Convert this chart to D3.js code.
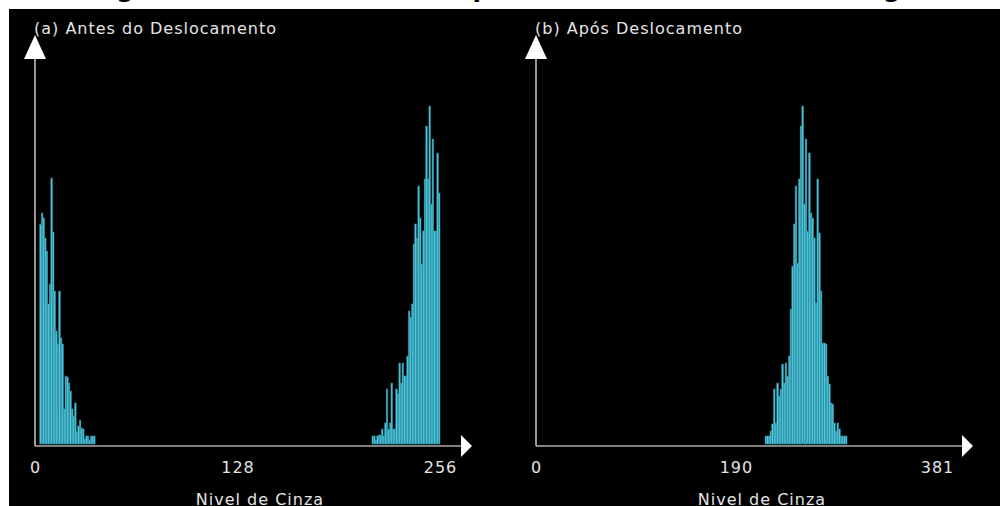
<!DOCTYPE html>
<html>
<head>
<meta charset="utf-8">
<script src="https://cdn.jsdelivr.net/npm/d3@7"></script>
<style>
  body { margin: 0; background: #fff; }
  text { font-family: "DejaVu Sans", sans-serif; }
</style>
</head>
<body>
<div id="chart"></div>
<script>
// gray level histograms, heights in relative count units
const beforeLowStart = 3;
const beforeLow = [220, 231, 226, 206, 193, 140, 160, 266, 212, 153, 113, 100, 153, 106, 100,
    35, 68, 67, 61, 53, 35, 28, 41, 12, 18, 24, 16, 15, 5, 8, 8, 4, 8, 8, 8];
const beforeHighStart = 213;
const beforeHigh = [8, 8, 4, 8, 9, 9, 15, 8, 21, 55, 15, 21, 61, 15, 15, 55, 50, 81, 61, 81, 68, 68,
    88, 133, 127, 140, 200, 220, 206, 258, 226, 180, 213, 265, 318, 265, 338, 240, 305, 213, 213, 291, 251];
const afterStart = 217.6;
const afterBinWidth = 1.59;
const after = [8, 8, 8, 13, 20, 55, 21, 61, 48, 55, 80, 61, 81, 68, 88, 135, 178, 220, 258, 181, 265,
    318, 338, 240, 305, 213, 291, 231, 226, 206, 141, 265, 211, 153, 101, 101, 100, 68, 60, 41, 40,
    21, 13, 21, 15, 8, 8, 8, 8];

const beforeTicks = [0, 128, 256];
const afterTicks = [0, 190, 381];
const panelTitles = ["(a) Antes do Deslocamento", "(b) Após Deslocamento"];
const axisTitle = "Nivel de Cinza";
const mainTitle = "Histograma Bimodal Antes e Após o Deslocamento do Histograma";

const W = 1000, H = 506;
const barFill = "#52c8dc", barStroke = "#2a8ea2", ink = "#e4e4e4";

const svg = d3.select("#chart").append("svg")
    .attr("width", W)
    .attr("height", H);

// title above the frame, only the descender tips reach into view
svg.append("text")
    .attr("x", W / 2 + 8)
    .attr("y", -3)
    .attr("text-anchor", "middle")
    .attr("font-size", 25)
    .attr("font-weight", "bold")
    .attr("fill", "#000")
    .text(mainTitle);

svg.append("rect")
    .attr("x", 9).attr("y", 9)
    .attr("width", W - 9).attr("height", H - 9)
    .attr("fill", "#000");

const y = d3.scaleLinear().domain([0, 350]).range([444, 94]);

function drawPanel(opts) {
    const g = svg.append("g");
    const x = opts.x;
    const x0 = x.range()[0];
    const base = 446;

    // bars
    opts.series.forEach(s => {
        g.selectAll(null)
            .data(s.values)
            .join("rect")
            .attr("x", (d, i) => x(s.start + i * s.step))
            .attr("y", d => y(d))
            .attr("width", x(s.step) - x(0))
            .attr("height", d => y(0) - y(d))
            .attr("fill", barFill)
            .attr("stroke", barStroke)
            .attr("stroke-width", 0.55);
    });

    // axes with arrow heads
    g.append("line")
        .attr("x1", x0).attr("y1", base)
        .attr("x2", opts.arrowX - 11).attr("y2", base)
        .attr("stroke", "#fff").attr("stroke-width", 1.2);
    g.append("line")
        .attr("x1", x0).attr("y1", base)
        .attr("x2", x0).attr("y2", 58)
        .attr("stroke", "#fff").attr("stroke-width", 1.2);
    g.append("path")
        .attr("d", `M${opts.arrowX},${base}L${opts.arrowX - 11},${base - 11}L${opts.arrowX - 11},${base + 11}Z`)
        .attr("fill", "#fff");
    g.append("path")
        .attr("d", `M${x0},35L${x0 - 11},59L${x0 + 11},59Z`)
        .attr("fill", "#fff");

    g.selectAll(null)
        .data(opts.ticks)
        .join("text")
        .attr("x", d => x(d) + 0.5)
        .attr("y", 473)
        .attr("text-anchor", "middle")
        .attr("font-size", 16)
        .attr("letter-spacing", 1)
        .attr("fill", ink)
        .text(d => d);

    g.append("text")
        .attr("x", opts.axisTitleX)
        .attr("y", 505)
        .attr("text-anchor", "middle")
        .attr("font-size", 16)
        .attr("letter-spacing", 1)
        .attr("fill", ink)
        .text(axisTitle);

    g.append("text")
        .attr("x", x0 - 1)
        .attr("y", 34)
        .attr("font-size", 16)
        .attr("letter-spacing", 1)
        .attr("fill", ink)
        .text(opts.title);
}

drawPanel({
    x: d3.scaleLinear().domain([0, 256]).range([35, 440]),
    series: [
        { start: beforeLowStart, step: 1, values: beforeLow },
        { start: beforeHighStart, step: 1, values: beforeHigh }
    ],
    ticks: beforeTicks,
    arrowX: 472,
    axisTitleX: 260,
    title: panelTitles[0]
});

drawPanel({
    x: d3.scaleLinear().domain([0, 381]).range([536, 937]),
    series: [
        { start: afterStart, step: afterBinWidth, values: after }
    ],
    ticks: afterTicks,
    arrowX: 973,
    axisTitleX: 762,
    title: panelTitles[1]
});
</script>
</body>
</html>
